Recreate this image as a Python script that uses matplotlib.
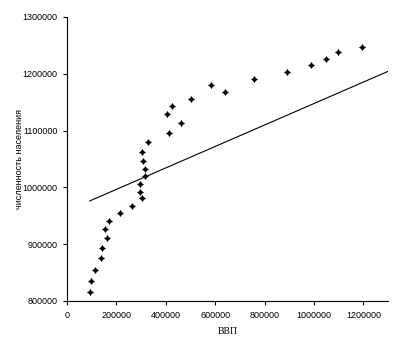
import numpy as np
import matplotlib.pyplot as plt
from matplotlib.ticker import FormatStrFormatter

# GDP (ВВП) vs population
gdp = [92100, 98600, 113600, 136700, 143200, 163500, 152900, 171600, 215000,
       262400, 305500, 294900, 296100, 317700, 316400, 309600, 304300, 329800,
       412600, 461300, 405700, 424700, 501800, 584200, 641000, 758700, 892500,
       987000, 1047900, 1099400, 1195500]
population = [815300, 835200, 855100, 875700, 893800, 910900, 926800, 940300, 954900,
              967300, 980800, 992600, 1006000, 1019500, 1032400, 1046500, 1062900, 1079400,
              1095800, 1112900, 1128700, 1142800, 1155600, 1180300, 1168000, 1191400, 1203700,
              1215000, 1226100, 1237800, 1247700]

# trend line as drawn in the reference (slope, intercept, end of x range)
trend_slope = 0.1889
trend_intercept = 958700
trend_x_end = 1300000

x = np.array(gdp)
y = np.array(population)

fig = plt.figure(figsize=(4.15, 3.51), dpi=100)
ax = fig.add_axes([0.1614, 0.1425, 0.7736, 0.8091])

ax.scatter(x, y, marker=(4, 1, 0), s=16, color="black", linewidths=0.7, zorder=3)
line_x = np.array([x.min(), trend_x_end])
ax.plot(line_x, trend_slope * line_x + trend_intercept, color="black", linewidth=0.8)

ax.set_xlim(0, 1300000)
ax.set_ylim(800000, 1300000)
ax.set_xticks(range(0, 1300001, 200000))
ax.set_yticks(range(800000, 1300001, 100000))
ax.xaxis.set_major_formatter(FormatStrFormatter("%d"))
ax.yaxis.set_major_formatter(FormatStrFormatter("%d"))
ax.spines["top"].set_visible(False)
ax.spines["right"].set_visible(False)
ax.spines["left"].set_linewidth(0.8)
ax.spines["bottom"].set_linewidth(0.8)
ax.tick_params(direction="out", length=3, width=0.8, labelsize=6.5, pad=4)
for lab in ax.get_xticklabels() + ax.get_yticklabels():
    lab.set_family("Liberation Sans")

ax.set_xlabel("ВВП", fontsize=7, family="Liberation Serif", labelpad=5)
ax.set_ylabel("численность населения", fontsize=6.5, family="Liberation Sans")
ax.yaxis.set_label_coords(-0.134, 0.5)

plt.savefig("out.png", dpi=100)
